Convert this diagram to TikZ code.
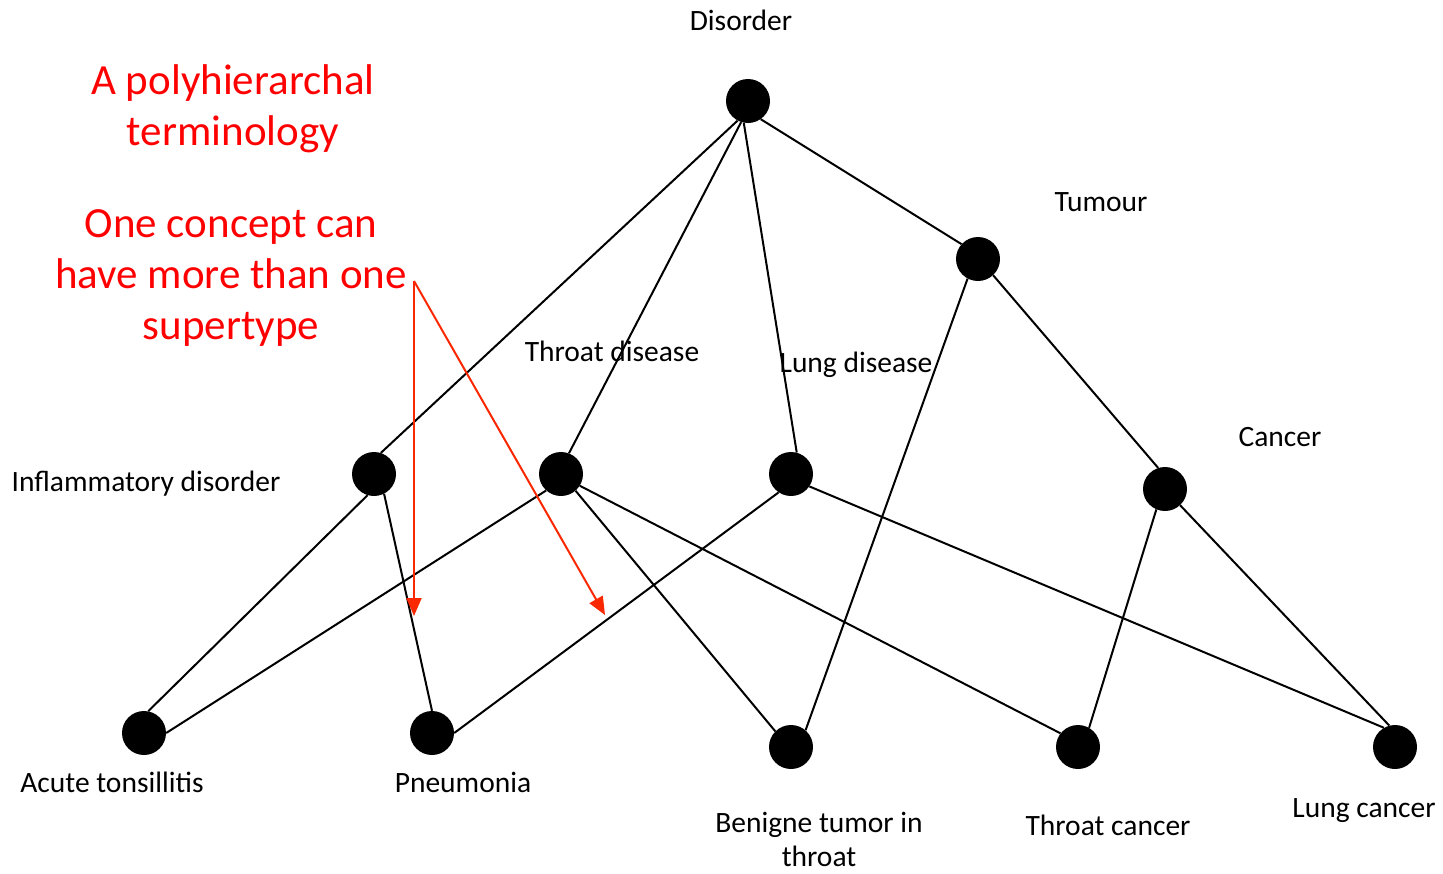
\documentclass[tikz,border=0pt]{standalone}
\usepackage{fontspec}
\setmainfont{Carlito}
\usetikzlibrary{arrows.meta}
\definecolor{notered}{RGB}{255,0,0}
\definecolor{arrowred}{RGB}{250,40,0}
\begin{document}
\begin{tikzpicture}[x=1pt,y=-1pt,
  concept/.style={circle,fill=black,minimum size=44pt,inner sep=0pt},
  link/.style={line width=2pt,black},
  lbl/.style={font=\fontsize{29.5}{34}\selectfont,inner sep=0pt,align=center},
  note/.style={font=\fontsize{43}{51}\selectfont,text=notered,inner sep=0pt,align=center},
  pointer/.style={line width=2pt,arrowred,-{Triangle[length=18pt,width=15pt]}}]
\useasboundingbox (0,0) rectangle (1443,873);

% concepts
\node[concept] (dis) at (748,101) {};
\node[concept] (tum) at (978,259) {};
\node[concept] (inf) at (374,474) {};
\node[concept] (thr) at (561,474) {};
\node[concept] (lung) at (791,474) {};
\node[concept] (can) at (1165,489) {};
\node[concept] (acu) at (144,733) {};
\node[concept] (pne) at (432,733) {};
\node[concept] (ben) at (791,747) {};
\node[concept] (thc) at (1078,747) {};
\node[concept] (luc) at (1395,747) {};

% concept labels
\node[lbl] (ldis) at (741,20) {Disorder};
\node[lbl] (ltum) at (1101,202) {Tumour};
\node[lbl] (lthr) at (612,351) {Throat disease};
\node[lbl] (llung) at (856,365) {Lung disease};
\node[lbl] (linf) at (146,484) {Inflammatory disorder};
\node[lbl] (lcan) at (1280,437) {Cancer};
\node[lbl] (lacu) at (112,782) {Acute tonsillitis};
\node[lbl] (lpne) at (463,782) {Pneumonia};
\node[lbl] (lben) at (819,839) {Benigne tumor in\\throat};
\node[lbl] (lthc) at (1108,825) {Throat cancer};
\node[lbl] (lluc) at (1364,811) {Lung cancer};

% is-a links
\draw[link] (dis.-118) -- (inf.72);
\draw[link] (dis.-108) -- (thr.69);
\draw[link] (dis.-101) -- (lung.75);
\draw[link] (dis.-55) -- (tum.138);
\draw[link] (tum.-118) -- (ben.49);
\draw[link] (tum.-47) -- (can.108);
\draw[link] (inf.-107) -- (acu.79);
\draw[link] (inf.-63) -- (pne.90);
\draw[link] (thr.-132) -- (acu.0);
\draw[link] (thr.-49) -- (ben.135);
\draw[link] (thr.-32) -- (thc.142);
\draw[link] (lung.-124) -- (pne.0);
\draw[link] (lung.-34) -- (luc.120);
\draw[link] (can.-113) -- (thc.60);
\draw[link] (can.-47) -- (luc.105);

% notes
\node[note] (title) at (233,109) {A polyhierarchal\\terminology};
\node[note] (claim) at (231,278) {One concept can\\have more than one\\supertype};

% pointers
\coordinate (src) at (414,281);
\coordinate (tipa) at (414,616);
\coordinate (tipb) at (605,615);
\draw[pointer] (src) -- (tipa);
\draw[pointer] (src) -- (tipb);
\end{tikzpicture}
\end{document}
